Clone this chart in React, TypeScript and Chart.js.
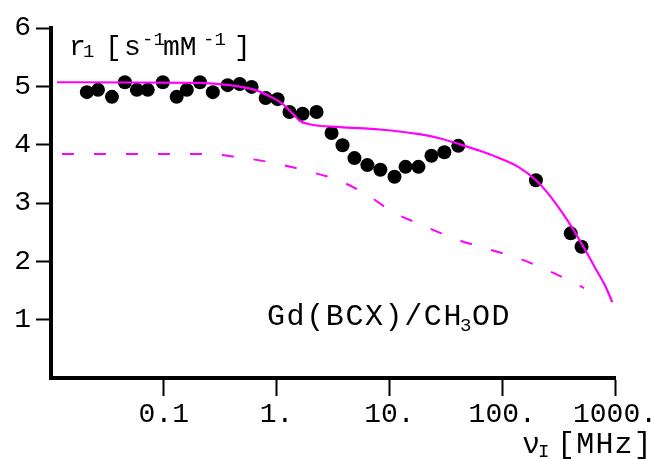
import React, { useEffect, useRef } from "react";
import { Chart, registerables } from "chart.js";

Chart.register(...registerables);

// Measured relaxivity points (frequency MHz, r1)
const pointsX = [0.0208, 0.0261, 0.0347, 0.0452, 0.0577, 0.0721, 0.098, 0.13, 0.16, 0.209, 0.272, 0.368, 0.471, 0.601, 0.8, 1.02, 1.3, 1.7, 2.26, 3.07, 3.84, 4.9, 6.38, 8.32, 11.1, 13.9, 18.1, 23.6, 30.7, 40.8, 199, 405, 505];
const pointsY = [4.9, 4.94, 4.82, 5.07, 4.94, 4.94, 5.07, 4.82, 4.94, 5.07, 4.9, 5.02, 5.04, 4.99, 4.8, 4.78, 4.56, 4.53, 4.56, 4.2, 3.99, 3.77, 3.65, 3.57, 3.45, 3.62, 3.62, 3.81, 3.87, 3.98, 3.39, 2.48, 2.25];

// Solid fit curve
const fitX = [0.0113, 0.208, 0.384, 0.638, 0.867, 1.13, 1.39, 1.6, 1.96, 3.61, 8.17, 18.4, 27.7, 41.6, 62.5, 94, 141, 199, 261, 342, 419, 514, 675, 828, 946];
const fitY = [5.07, 5.06, 5.02, 4.94, 4.83, 4.7, 4.53, 4.41, 4.35, 4.3, 4.26, 4.18, 4.11, 4.01, 3.9, 3.77, 3.61, 3.39, 3.14, 2.83, 2.57, 2.28, 1.87, 1.56, 1.3];

// Dashed curve
const dashX = [0.0125, 0.24, 0.44, 0.92, 1.84, 3.4, 6.25, 10.6, 19.6, 37.6, 71.8, 141, 270, 464, 532];
const dashY = [3.84, 3.84, 3.79, 3.69, 3.55, 3.4, 3.15, 2.85, 2.62, 2.39, 2.22, 2.05, 1.82, 1.6, 1.54];

const xTickValues = [0.1, 1, 10, 100, 1000];
const xTickLabels = ["0.1", "1.", "10.", "100.", "1000."];
const yTickValues = [1, 2, 3, 4, 5, 6];
const yTickLabels = ["1", "2", "3", "4", "5", "6"];

const FONT = '"Liberation Mono", "Courier New", monospace';

type Seg = { t: string; x: number; dy?: number; size?: number; ls?: number };

function drawRich(ctx: CanvasRenderingContext2D, y: number, segs: Seg[], base: number) {
  for (const s of segs) {
    const size = s.size ?? base;
    ctx.font = `${size}px ${FONT}`;
    try {
      (ctx as any).letterSpacing = `${s.ls ?? 0}px`;
    } catch (e) {}
    ctx.fillText(s.t, s.x, y + (s.dy ?? 0));
  }
  try {
    (ctx as any).letterSpacing = "0px";
  } catch (e) {}
}

const labelsPlugin = {
  id: "labelsPlugin",
  afterDraw(chart: any) {
    const ctx = chart.ctx as CanvasRenderingContext2D;
    ctx.save();
    ctx.fillStyle = "#000";
    ctx.textBaseline = "alphabetic";
    ctx.textAlign = "left";
    drawRich(ctx, 55, [
      { t: "r", x: 69 },
      { t: "1", x: 83, dy: 2, size: 19 },
      { t: "[", x: 105 },
      { t: "s", x: 124 },
      { t: "-1", x: 142, dy: -10, size: 19 },
      { t: "mM", x: 163 },
      { t: "-1", x: 203, dy: -10, size: 19 },
      { t: "]", x: 234 },
    ], 28);
    drawRich(ctx, 325, [
      { t: "Gd(BCX)/CH", x: 267, ls: 1.6 },
      { t: "3", x: 460, dy: 6, size: 19 },
      { t: "OD", x: 472, ls: 1.6 },
    ], 30);
    drawRich(ctx, 453, [
      { t: "\u03bd", x: 522 },
      { t: "I", x: 538, dy: 4, size: 19 },
      { t: "[MHz]", x: 557, ls: 1.2 },
    ], 30);
    ctx.restore();
  },
};

export default function App() {
  const ref = useRef<HTMLCanvasElement | null>(null);
  useEffect(() => {
    if (!ref.current) return;
    const chart = new Chart(ref.current, {
      type: "scatter",
      data: {
        datasets: [
          {
            label: "fit",
            data: fitX.map((x, i) => ({ x, y: fitY[i] })),
            showLine: true,
            borderColor: "#ff00ff",
            borderWidth: 2.2,
            pointRadius: 0,
            cubicInterpolationMode: "monotone",
            order: 0,
          },
          {
            label: "inner",
            data: dashX.map((x, i) => ({ x, y: dashY[i] })),
            showLine: true,
            borderColor: "#ff00ff",
            borderWidth: 2,
            borderDash: [12, 20],
            pointRadius: 0,
            cubicInterpolationMode: "monotone",
            order: 0,
          },
          {
            label: "data",
            data: pointsX.map((x, i) => ({ x, y: pointsY[i] })),
            showLine: false,
            pointRadius: 7,
            pointBackgroundColor: "#000",
            pointBorderColor: "#000",
            pointBorderWidth: 0,
            order: 1,
          },
        ],
      },
      options: {
        responsive: false,
        animation: false,
        layout: { padding: { left: 0, top: 28, right: 39, bottom: 0 } },
        plugins: { legend: { display: false }, tooltip: { enabled: false } },
        scales: {
          x: {
            type: "logarithmic",
            min: 0.01,
            max: 1000,
            border: { display: true, width: 4, color: "#000" },
            grid: { display: true, drawOnChartArea: false, drawTicks: true, tickLength: 18, tickWidth: 2, tickColor: "#000" },
            ticks: {
              autoSkip: false,
              maxRotation: 0,
              minRotation: 0,
              padding: 2,
              color: "#000",
              font: { family: FONT, size: 28 },
              callback: (v: any) => {
                const i = xTickValues.findIndex((t) => Math.abs(t - v) < 1e-9 * Math.max(1, t));
                return i >= 0 ? xTickLabels[i] : "";
              },
            },
            afterBuildTicks: (s: any) => {
              s.ticks = xTickValues.map((v) => ({ value: v }));
            },
            afterFit: (s: any) => {
              s.height = 81;
              s.paddingLeft = 0;
              s.paddingRight = 0;
            },
          },
          y: {
            type: "linear",
            min: 0,
            max: 6,
            border: { display: true, width: 4, color: "#000" },
            grid: { display: true, drawOnChartArea: false, drawTicks: true, tickLength: 15, tickWidth: 2, tickColor: "#000" },
            ticks: {
              autoSkip: false,
              padding: 5,
              color: "#000",
              font: { family: FONT, size: 28 },
              callback: (v: any) => {
                const i = yTickValues.indexOf(v);
                return i >= 0 ? yTickLabels[i] : "";
              },
            },
            afterBuildTicks: (s: any) => {
              s.ticks = yTickValues.map((v) => ({ value: v }));
            },
            afterFit: (s: any) => {
              s.width = 51;
              s.paddingTop = 0;
              s.paddingBottom = 0;
            },
          },
        },
      },
      plugins: [labelsPlugin],
    });
    return () => chart.destroy();
  }, []);
  return (
    <div style={{ position: "absolute", left: 0, top: 0, width: 654, height: 459, background: "#fff" }}>
      <canvas ref={ref} width={654} height={459} style={{ display: "block" }} />
    </div>
  );
}
